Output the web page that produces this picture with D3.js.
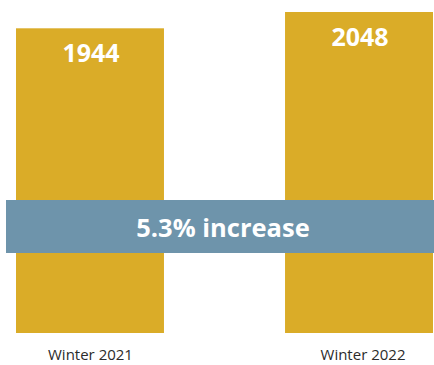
<!DOCTYPE html>
<html>
<head>
<meta charset="utf-8">
<script src="https://cdn.jsdelivr.net/npm/d3@7"></script>
<style>
  body { margin: 0; background: #fff; }
  text { font-family: "Open Sans", sans-serif; }
</style>
</head>
<body>
<div id="chart"></div>
<script>
var categories = ['Winter 2021', 'Winter 2022'];
var values = [1944, 2048];
var changeLabel = '5.3% increase';

var width = 434,
  height = 365,
  baseline = 333,
  barColor = '#daac28',
  bandColor = '#6e94ab';

var svg = d3.select('#chart')
  .append('svg')
  .attr('width', width)
  .attr('height', height);

var xScale = d3.scaleBand()
  .domain(categories)
  .range([16, 433])
  .paddingInner(0.45)
  .paddingOuter(0);

var yScale = d3.scaleLinear()
  .domain([0, d3.max(values)])
  .range([baseline, 12]);

var data = categories.map((c, i) => ({label: c, value: values[i]}));

svg.selectAll('rect.bar')
  .data(data)
  .enter()
  .append('rect')
  .attr('class', 'bar')
  .attr('x', (d) => xScale(d.label))
  .attr('y', (d) => yScale(d.value))
  .attr('width', xScale.bandwidth())
  .attr('height', (d) => baseline - yScale(d.value))
  .attr('fill', barColor);

svg.selectAll('text.value')
  .data(data)
  .enter()
  .append('text')
  .attr('class', 'value')
  .attr('x', (d) => xScale(d.label) + xScale.bandwidth() / 2 + 1)
  .attr('y', (d) => yScale(d.value) + 34)
  .attr('text-anchor', 'middle')
  .attr('fill', '#fff')
  .attr('font-weight', 'bold')
  .attr('font-size', 25)
  .text((d) => d.value);

// category labels under the bars (not centred under the bars in the original)
svg.selectAll('text.cat')
  .data(data)
  .enter()
  .append('text')
  .attr('class', 'cat')
  .attr('x', (d, i) => xScale(d.label) + xScale.bandwidth() / 2 + (i === 0 ? 0.5 : 4))
  .attr('y', 360)
  .attr('text-anchor', 'middle')
  .attr('fill', '#2b2b2b')
  .attr('font-size', 15)
  .text((d) => d.label);

// horizontal band with the change
svg.append('rect')
  .attr('x', 6)
  .attr('y', 200)
  .attr('width', 428)
  .attr('height', 53)
  .attr('fill', bandColor);

svg.append('text')
  .attr('x', 223)
  .attr('y', 237)
  .attr('text-anchor', 'middle')
  .attr('fill', '#fff')
  .attr('font-weight', 'bold')
  .attr('font-size', 25.5)
  .text(changeLabel);
</script>
</body>
</html>
